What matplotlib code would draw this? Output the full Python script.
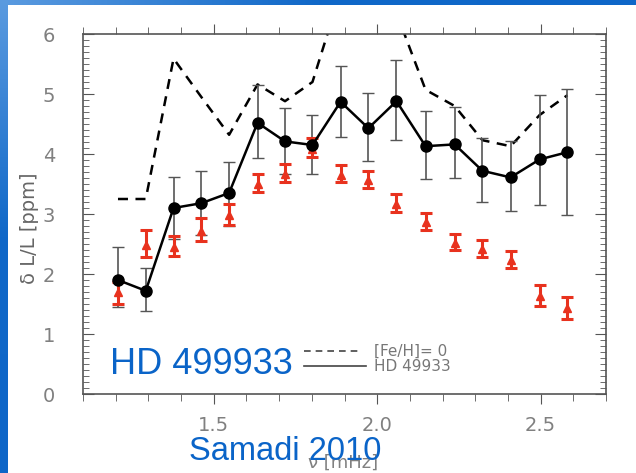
import numpy as np
import matplotlib
matplotlib.use("Agg")
import matplotlib.pyplot as plt
from matplotlib.ticker import MultipleLocator

# frequency bins [mHz]
nu = [1.207, 1.292, 1.377, 1.462, 1.547, 1.634, 1.718, 1.802, 1.888,
      1.973, 2.059, 2.148, 2.237, 2.322, 2.408, 2.497, 2.582]

# HD 49933 model amplitudes (solid line) with error range
amp_hd = [1.90, 1.72, 3.10, 3.18, 3.35, 4.52, 4.21, 4.15, 4.87,
          4.43, 4.88, 4.13, 4.16, 3.72, 3.61, 3.91, 4.03]
amp_hd_hi = [2.45, 2.10, 3.62, 3.71, 3.87, 5.15, 4.76, 4.65, 5.46,
             5.01, 5.57, 4.72, 4.78, 4.26, 4.22, 4.98, 5.09]
amp_hd_lo = [1.45, 1.39, 2.58, 2.65, 2.80, 3.94, 3.67, 3.67, 4.28,
             3.89, 4.23, 3.58, 3.60, 3.20, 3.05, 3.15, 2.98]

# solar metallicity model ([Fe/H] = 0), dashed
amp_sun = [3.25, 3.25, 5.59, 4.95, 4.32, 5.16, 4.88, 5.20, 6.70,
           6.90, 6.35, 5.07, 4.80, 4.23, 4.13, 4.65, 4.98]

# observed amplitudes (red triangles)
amp_obs = [1.70, 2.48, 2.45, 2.72, 2.98, 3.50, 3.66, 4.08, 3.65,
           3.57, 3.17, 2.86, 2.51, 2.41, 2.23, 1.63, 1.43]
amp_obs_hi = [1.87, 2.74, 2.63, 2.93, 3.16, 3.67, 3.83, 4.26, 3.82,
              3.72, 3.33, 3.02, 2.67, 2.57, 2.39, 1.82, 1.62]
amp_obs_lo = [1.50, 2.29, 2.30, 2.55, 2.82, 3.37, 3.53, 3.95, 3.54,
              3.44, 3.04, 2.74, 2.40, 2.28, 2.10, 1.46, 1.25]

W, H = 636, 473
fig = plt.figure(figsize=(W / 100, H / 100), dpi=100)
fig.patch.set_facecolor("white")

# blue frame strips along the top and the left edge
grad = np.linspace(0, 1, 256)[None, :]
frame_cmap = matplotlib.colors.LinearSegmentedColormap.from_list(
    "frame", ["#5b9be0", "#1068c8", "#0e66c8"])
top = fig.add_axes([0, 1 - 5 / H, 1, 5 / H])
top.imshow(grad, aspect="auto", cmap=frame_cmap)
top.axis("off")
left = fig.add_axes([0, 0, 8 / W, 1])
left.imshow(grad.T, aspect="auto", cmap=frame_cmap)
left.axis("off")

grey = "#808080"
ax = fig.add_axes([83 / W, 1 - 394 / H, (606 - 83) / W, (394 - 34) / H])

hd = np.array(amp_hd)
obs = np.array(amp_obs)

ax.plot(nu, amp_sun, color="black", lw=1.8, ls=(0, (4, 3)), zorder=2)
ax.errorbar(nu, hd, yerr=[hd - np.array(amp_hd_lo), np.array(amp_hd_hi) - hd],
            fmt="none", ecolor="#555555", elinewidth=1.2, capsize=4, capthick=1.0, zorder=3)
ax.errorbar(nu, obs, yerr=[obs - np.array(amp_obs_lo), np.array(amp_obs_hi) - obs],
            fmt="^", color="#e8321e", ms=6, elinewidth=2.2, capsize=4.5, capthick=2.2, zorder=4)
ax.plot(nu, hd, color="black", lw=1.8, marker="o", ms=8, zorder=5)

ax.set_xlim(1.1, 2.7)
ax.set_ylim(0, 6)
ax.xaxis.set_major_locator(MultipleLocator(0.5))
ax.xaxis.set_minor_locator(MultipleLocator(0.1))
ax.yaxis.set_major_locator(MultipleLocator(1))
ax.yaxis.set_minor_locator(MultipleLocator(0.1))
ax.set_xticks([1.5, 2.0, 2.5])
ax.set_xticklabels(["1.5", "2.0", "2.5"])
ax.tick_params(axis="x", which="both", direction="out", top=True, color="#555555")
ax.tick_params(axis="x", which="major", length=7, pad=9)
ax.tick_params(axis="x", which="minor", length=5)
ax.tick_params(axis="y", which="both", direction="in", right=True, color="#555555")
ax.tick_params(axis="y", which="major", length=8, pad=20)
ax.tick_params(axis="y", which="minor", length=4)
ax.tick_params(labelsize=14, labelcolor=grey)
for s in ax.spines.values():
    s.set_color("#555555")
    s.set_linewidth(1.2)

ax.set_ylabel("δ L/L [ppm]", fontsize=14, color="#666666")
ax.yaxis.set_label_coords(-0.084, 0.46)
ax.set_xlabel("ν [mHz]", fontsize=13, color=grey)
ax.xaxis.set_label_coords(0.497, -0.165)

# legend drawn by hand in data coordinates
ax.plot([1.775, 1.944], [0.71, 0.71], color="#444444", lw=1.2, ls=(0, (4, 3)))
ax.plot([1.775, 1.965], [0.46, 0.46], color="#444444", lw=1.2)
ax.text(1.99, 0.71, "[Fe/H]= 0", fontsize=11, color="#777777", va="center")
ax.text(1.99, 0.46, "HD 49933", fontsize=11, color="#777777", va="center")

blue = "#0a64c8"
fig.text(110 / W, 1 - 365 / H, "HD 499933", fontsize=26, color=blue,
         family="Liberation Sans", va="center")
fig.text(189 / W, 1 - 451 / H, "Samadi 2010", fontsize=23.5, color=blue,
         family="Liberation Sans", va="center")

fig.savefig("out.png", dpi=100, facecolor=fig.get_facecolor())
